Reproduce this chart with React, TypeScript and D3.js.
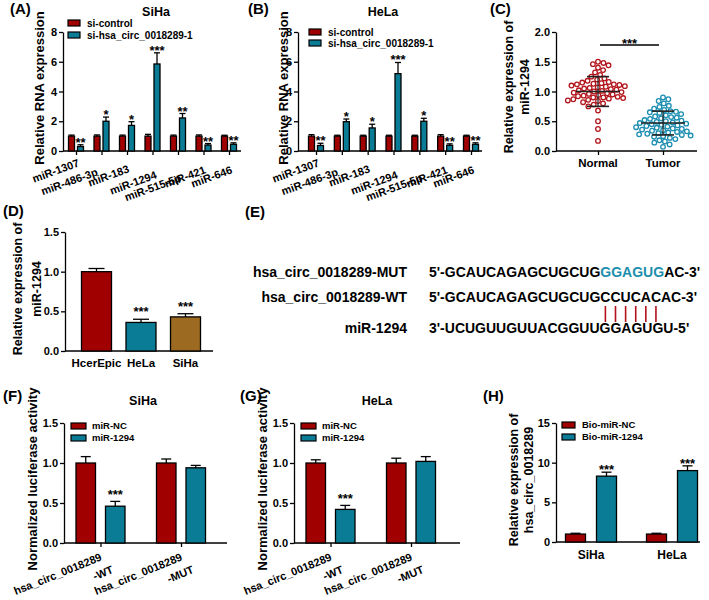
import React, { useEffect, useRef } from 'react';
import * as d3 from 'd3';

const FONT = '"Liberation Sans", Arial, Helvetica, sans-serif';
const RED = '#a10000';
const TEAL = '#0b7c95';
const BROWN = '#9c6a21';
const RED_DOT = '#b3151c';
const TEAL_DOT = '#1a8db0';
const SEQ_TEAL = '#1c8fae';

// (A) SiHa / (B) HeLa
const mirCategories = ['miR-1307', 'miR-486-3p', 'miR-183', 'miR-1294', 'miR-515-5p', 'miR-421', 'miR-646'];
const legendAB = ['si-control', 'si-hsa_circ_0018289-1'];
const siHaControl = [1.0, 1.0, 1.0, 1.0, 1.0, 1.0, 1.0];
const siHaControlErr = [0.07, 0.08, 0.07, 0.12, 0.07, 0.08, 0.06];
const siHaKnock = [0.3, 2.0, 1.72, 5.85, 2.22, 0.4, 0.45];
const siHaKnockErr = [0.12, 0.28, 0.25, 0.75, 0.3, 0.1, 0.1];
const siHaStars = ['**', '*', '*', '***', '**', '**', '**'];
const heLaControl = [1.0, 1.0, 1.0, 1.0, 1.0, 1.0, 1.0];
const heLaControlErr = [0.1, 0.06, 0.06, 0.06, 0.06, 0.1, 0.06];
const heLaKnock = [0.37, 1.97, 1.55, 5.2, 2.0, 0.38, 0.45];
const heLaKnockErr = [0.15, 0.18, 0.25, 0.75, 0.2, 0.1, 0.1];
const heLaStars = ['**', '*', '*', '***', '*', '**', '**'];
const ticksAB = [0, 2, 4, 6, 8];

// (C)
const dotGroups = ['Normal', 'Tumor'];
const normalValues = [
  1.5, 1.48, 1.46, 1.44, 1.4, 1.36, 1.32, 1.28, 1.25, 1.22, 1.2, 1.18, 1.16, 1.15, 1.14, 1.13, 1.12, 1.12,
  1.11, 1.1, 1.09, 1.08, 1.07, 1.06, 1.05, 1.04, 1.03, 1.02, 1.01, 1.0, 0.99, 0.98, 0.97, 0.96, 0.95, 0.94,
  0.93, 0.92, 0.91, 0.9, 0.9, 0.89, 0.88, 0.87, 0.86, 0.85, 0.84, 0.82, 0.8, 0.78, 0.75, 0.68, 0.5, 0.37, 0.17,
];
const tumorValues = [
  0.9, 0.87, 0.84, 0.8, 0.76, 0.74, 0.71, 0.69, 0.67, 0.66, 0.65, 0.64, 0.62, 0.6, 0.58, 0.57, 0.56, 0.55,
  0.54, 0.52, 0.51, 0.5, 0.49, 0.48, 0.47, 0.46, 0.45, 0.44, 0.43, 0.42, 0.41, 0.4, 0.39, 0.38, 0.37, 0.36,
  0.35, 0.34, 0.33, 0.32, 0.31, 0.3, 0.29, 0.28, 0.27, 0.26, 0.25, 0.24, 0.22, 0.2, 0.18, 0.16, 0.14, 0.11, 0.07,
];
const normalStats = { mean: 1.0, sd: 0.25 };
const tumorStats = { mean: 0.47, sd: 0.2 };
const ticksC = [0, 0.5, 1.0, 1.5, 2.0];

// (D)
const cellLines = ['HcerEpic', 'HeLa', 'SiHa'];
const cellValues = [1.0, 0.36, 0.43];
const cellErrors = [0.04, 0.04, 0.04];
const cellStars = ['', '***', '***'];
const ticksD = [0, 0.5, 1.0, 1.5];

// (E)
const seqLabels = ['hsa_circ_0018289-MUT', 'hsa_circ_0018289-WT', 'miR-1294'];
const seqMutPrefix = "5'-GCAUCAGAGCUGCUG";
const seqMutSite = 'GGAGUG';
const seqMutSuffix = "AC-3'";
const seqWT = "5'-GCAUCAGAGCUGCUGCCUCACAC-3'";
const seqMiR = "3'-UCUGUUGUUACGGUUGGAGUGU-5'";
const pairIndices = [18, 19, 20, 21, 22, 23];

// (F) SiHa / (G) HeLa
const lucGroups = ['WT', 'MUT'];
const lucLabelLines = [['hsa_circ_0018289', '-WT'], ['hsa_circ_0018289', '-MUT']];
const legendFG = ['miR-NC', 'miR-1294'];
const siHaLucNC = [1.0, 1.0];
const siHaLucNCErr = [0.08, 0.05];
const siHaLuc1294 = [0.46, 0.94];
const siHaLuc1294Err = [0.06, 0.03];
const siHaLucStars = ['***', ''];
const heLaLucNC = [1.0, 1.0];
const heLaLucNCErr = [0.04, 0.06];
const heLaLuc1294 = [0.42, 1.02];
const heLaLuc1294Err = [0.05, 0.06];
const heLaLucStars = ['***', ''];
const ticksFG = [0, 0.5, 1.0, 1.5];

// (H)
const pullCells = ['SiHa', 'HeLa'];
const legendH = ['Bio-miR-NC', 'Bio-miR-1294'];
const pullNC = [1.0, 1.0];
const pullNCErr = [0.1, 0.1];
const pull1294 = [8.3, 9.0];
const pull1294Err = [0.5, 0.6];
const pullStars = ['***', '***'];
const ticksH = [0, 5, 10, 15];

// layout: staggered offsets of the rotated category labels in (A)/(B)
const mirLabelShiftX = [4, -3, 3, 5, 4, 3, 4];
const mirLabelShiftY = [0, 9, 6, 12, 15, 7, 7];

type Sel = d3.Selection<any, any, any, any>;

function beeswarm(values: number[], y: (v: number) => number, cx: number, d: number) {
  const pts = values.map((v) => ({ v, y: y(v), x: cx })).sort((a, b) => a.y - b.y);
  const placed: { x: number; y: number }[] = [];
  for (const p of pts) {
    const cands = [cx];
    for (const q of placed) {
      const dy = Math.abs(q.y - p.y);
      if (dy < d) {
        const dx = Math.sqrt(d * d - dy * dy);
        cands.push(q.x + dx, q.x - dx);
      }
    }
    cands.sort((a, b) => Math.abs(a - cx) - Math.abs(b - cx));
    for (const c of cands) {
      if (placed.every((q) => (q.x - c) ** 2 + (q.y - p.y) ** 2 >= d * d - 0.01)) {
        p.x = c;
        break;
      }
    }
    placed.push(p);
  }
  return pts;
}

export default function App() {
  const ref = useRef<SVGSVGElement>(null);

  useEffect(() => {
    const svg = d3.select(ref.current!);
    svg.selectAll('*').remove();
    svg.append('rect').attr('width', 709).attr('height', 600).attr('fill', '#fff');
    const root = svg.append('g').attr('font-family', FONT).attr('font-weight', 700).attr('fill', '#000');

    const text = (g: Sel, x: number, y: number, s: string, size: number, anchor = 'start') =>
      g.append('text').attr('x', x).attr('y', y).attr('font-size', size).attr('text-anchor', anchor).text(s);

    const vTitle = (g: Sel, x: number, yc: number, s: string, size: number) =>
      g
        .append('text')
        .attr('transform', `translate(${x},${yc}) rotate(-90)`)
        .attr('text-anchor', 'middle')
        .attr('font-size', size)
        .text(s);

    const yAxis = (g: Sel, y: d3.ScaleLinear<number, number>, x: number, ticks: number[], fmt: (v: number) => string) => {
      const ax = d3.axisLeft(y).tickValues(ticks).tickFormat(fmt as any).tickSize(4).tickSizeOuter(0).tickPadding(2);
      const a = g.append('g').attr('transform', `translate(${x},0)`).call(ax as any);
      a.attr('font-family', FONT).attr('font-size', 11).attr('font-weight', 700);
      a.select('.domain').attr('stroke', '#000').attr('stroke-width', 1.3);
      a.selectAll('.tick line').attr('stroke', '#000').attr('stroke-width', 1.3);
      a.selectAll('.tick text').attr('fill', '#000');
    };

    const xLine = (g: Sel, x1: number, x2: number, y: number) =>
      g.append('line').attr('x1', x1).attr('x2', x2).attr('y1', y).attr('y2', y).attr('stroke', '#000').attr('stroke-width', 1.3);

    const xTicks = (g: Sel, x: d3.ScalePoint<string>, y: number) => {
      const a = g.append('g').attr('transform', `translate(0,${y})`).call(d3.axisBottom(x).tickSize(4).tickFormat(() => '') as any);
      a.select('.domain').remove();
      a.selectAll('.tick line').attr('stroke', '#000').attr('stroke-width', 1.3);
    };

    const bar = (
      g: Sel, cx: number, w: number, y: d3.ScaleLinear<number, number>, v: number, e: number,
      fill: string, stars: string, capW: number, starDy = 2,
    ) => {
      g.append('rect')
        .attr('x', cx - w / 2).attr('y', y(v)).attr('width', w).attr('height', y(0) - y(v))
        .attr('fill', fill).attr('stroke', '#000').attr('stroke-width', 1.3);
      if (e > 0) {
        g.append('line').attr('x1', cx).attr('x2', cx).attr('y1', y(v)).attr('y2', y(v + e)).attr('stroke', '#000').attr('stroke-width', 1.3);
        g.append('line').attr('x1', cx - capW / 2).attr('x2', cx + capW / 2).attr('y1', y(v + e)).attr('y2', y(v + e)).attr('stroke', '#000').attr('stroke-width', 1.3);
      }
      if (stars) text(g, cx, y(v + e) + starDy, stars, 13, 'middle');
    };

    const legend = (g: Sel, x: number, ys: number[], w: number, h: number, labels: string[], colors: string[], size: number, tx: number) => {
      labels.forEach((l, i) => {
        g.append('rect').attr('x', x).attr('y', ys[i] - h / 2).attr('width', w).attr('height', h)
          .attr('fill', colors[i]).attr('stroke', '#000').attr('stroke-width', 1.2);
        text(g, tx, ys[i] + size * 0.36, l, size);
      });
    };

    // ---------- (A) & (B) ----------
    const drawAB = (
      ox: number, axisX: number, xr: [number, number], axisEnd: number, title: string, titleX: number, letter: string,
      ctrl: number[], ctrlErr: number[], kd: number[], kdErr: number[], stars: string[], legX: number, legYs: number[], yTitleX: number,
    ) => {
      const g = root.append('g');
      const y = d3.scaleLinear().domain([0, 8]).range([151, 32]);
      const x = d3.scalePoint<string>().domain(mirCategories).range(xr);
      text(g, ox, 14, letter, 15);
      text(g, titleX, 16, title, 12.5, 'middle');
      vTitle(g, yTitleX, 88, 'Relative RNA expression', 13);
      yAxis(g, y, axisX, ticksAB, (v) => String(v));
      xLine(g, axisX, axisEnd, 151);
      xTicks(g, x, 151);
      mirCategories.forEach((c, i) => {
        const cx = x(c)!;
        bar(g, cx - 4.5, 6, y, ctrl[i], ctrlErr[i], RED, '', 6);
        bar(g, cx + 4.5, 6, y, kd[i], kdErr[i], TEAL, stars[i], 6);
        g.append('text')
          .attr('transform', `translate(${cx + mirLabelShiftX[i]},${166 + mirLabelShiftY[i]}) rotate(-20)`)
          .attr('text-anchor', 'end').attr('font-size', 11).text(c);
      });
      legend(g, legX, legYs, 12, 6, legendAB, [RED, TEAL], 10, legX + 19);
    };
    drawAB(10, 63, [76, 229], 241, 'SiHa', 156, '(A)', siHaControl, siHaControlErr, siHaKnock, siHaKnockErr, siHaStars, 68, [23, 35], 44);
    drawAB(248, 298, [316, 471], 482, 'HeLa', 383, '(B)', heLaControl, heLaControlErr, heLaKnock, heLaKnockErr, heLaStars, 309, [32, 43], 288);

    // ---------- (C) ----------
    {
      const g = root.append('g');
      const y = d3.scaleLinear().domain([0, 2]).range([151, 32]);
      const x = d3.scalePoint<string>().domain(dotGroups).range([598, 663]);
      text(g, 490, 14, '(C)', 15);
      vTitle(g, 513, 87, 'Relative expression of', 12.5);
      vTitle(g, 529, 87, 'miR-1294', 12.5);
      yAxis(g, y, 556, ticksC, (v) => v.toFixed(1));
      xLine(g, 556, 697, 151);
      xTicks(g, x, 151);
      dotGroups.forEach((grp) => text(g, x(grp)!, 167, grp, 11.5, 'middle'));
      const groups = [
        { vals: normalValues, stats: normalStats, color: RED_DOT, name: dotGroups[0] },
        { vals: tumorValues, stats: tumorStats, color: TEAL_DOT, name: dotGroups[1] },
      ];
      groups.forEach((gr) => {
        const cx = x(gr.name)!;
        const pts = beeswarm(gr.vals, y, cx, 5.6);
        g.selectAll(null).data(pts).enter().append('circle')
          .attr('cx', (d) => d.x).attr('cy', (d) => d.y).attr('r', 2.3)
          .attr('fill', '#fff').attr('stroke', gr.color).attr('stroke-width', 1.3);
        const m = gr.stats.mean, s = gr.stats.sd;
        const lc = '#222';
        g.append('line').attr('x1', cx).attr('x2', cx).attr('y1', y(m - s)).attr('y2', y(m + s)).attr('stroke', lc).attr('stroke-width', 1.2);
        g.append('line').attr('x1', cx - 22).attr('x2', cx + 22).attr('y1', y(m)).attr('y2', y(m)).attr('stroke', lc).attr('stroke-width', 1.6);
        [m - s, m + s].forEach((v) =>
          g.append('line').attr('x1', cx - 11).attr('x2', cx + 11).attr('y1', y(v)).attr('y2', y(v)).attr('stroke', lc).attr('stroke-width', 1.6));
      });
      g.append('line').attr('x1', 600).attr('x2', 659).attr('y1', 45).attr('y2', 45).attr('stroke', '#000').attr('stroke-width', 1.3);
      text(g, 629.5, 48, '***', 13, 'middle');
    }

    // ---------- (D) ----------
    {
      const g = root.append('g');
      const y = d3.scaleLinear().domain([0, 1.5]).range([351, 232]);
      const x = d3.scalePoint<string>().domain(cellLines).range([96.5, 185.5]);
      text(g, 3, 216, '(D)', 15);
      vTitle(g, 22, 289, 'Relative expression of', 12.5);
      vTitle(g, 41, 289, 'miR-1294', 12.5);
      yAxis(g, y, 65, ticksD, (v) => v.toFixed(1));
      xLine(g, 65, 213, 351);
      const cols = [RED, TEAL, BROWN];
      cellLines.forEach((c, i) => {
        bar(g, x(c)!, 30, y, cellValues[i], cellErrors[i], cols[i], cellStars[i], 16, -3);
        text(g, x(c)!, 367, c, 11.5, 'middle');
      });
    }

    // ---------- (E) ----------
    {
      const g = root.append('g');
      text(g, 245, 217, '(E)', 15);
      const ys = [277, 302, 333];
      seqLabels.forEach((l, i) => text(g, 407, ys[i], l, 14, 'end'));
      const mut = g.append('text').attr('x', 429).attr('y', ys[0]).attr('font-size', 14);
      mut.append('tspan').text(seqMutPrefix);
      mut.append('tspan').attr('fill', SEQ_TEAL).text(seqMutSite);
      mut.append('tspan').text(seqMutSuffix);
      const wt = text(g, 429, ys[1], seqWT, 14);
      text(g, 429, ys[2], seqMiR, 14);
      const node = wt.node() as SVGTextElement;
      pairIndices.forEach((idx) => {
        let cxp = 0;
        try {
          const ext = node.getExtentOfChar(idx);
          cxp = ext.x + ext.width / 2;
        } catch (e) {
          cxp = 606 + (idx - 18) * 10.4;
        }
        g.append('line').attr('x1', cxp).attr('x2', cxp).attr('y1', 306).attr('y2', 322)
          .attr('stroke', '#b3101c').attr('stroke-width', 1.6);
      });
    }

    // ---------- (F) & (G) ----------
    const drawFG = (
      ox: number, axisX: number, xr: [number, number], axisEnd: number, title: string, titleX: number, letter: string,
      nc: number[], ncErr: number[], mi: number[], miErr: number[], stars: string[], legX: number, yTitleX: number,
    ) => {
      const g = root.append('g');
      const y = d3.scaleLinear().domain([0, 1.5]).range([543, 423]);
      const x = d3.scalePoint<string>().domain(lucGroups).range(xr);
      text(g, ox, 401, letter, 15);
      text(g, titleX, 405, title, 12.5, 'middle');
      vTitle(g, yTitleX, 479, 'Normalized luciferase activity', 13);
      yAxis(g, y, axisX, ticksFG, (v) => v.toFixed(1));
      xLine(g, axisX, axisEnd, 543);
      xTicks(g, x, 543);
      lucGroups.forEach((c, i) => {
        const cx = x(c)!;
        bar(g, cx - 14.75, 19.5, y, nc[i], ncErr[i], RED, '', 10);
        bar(g, cx + 14.75, 19.5, y, mi[i], miErr[i], TEAL, stars[i], 10, -2);
        const t = g.append('text')
          .attr('transform', `translate(${cx + 2},${560}) rotate(-22)`)
          .attr('text-anchor', 'end').attr('font-size', 11);
        lucLabelLines[i].forEach((ln, j) => t.append('tspan').attr('x', j === 0 ? 0 : 6).attr('dy', j === 0 ? 0 : 16).text(ln));
      });
      legend(g, legX, [426, 438], 15, 6, legendFG, [RED, TEAL], 9.5, legX + 21);
    };
    drawFG(3, 64, [100.5, 181], 227, 'SiHa', 143, '(F)', siHaLucNC, siHaLucNCErr, siHaLuc1294, siHaLuc1294Err, siHaLucStars, 71, 37);
    drawFG(240, 294, [330.5, 411], 460, 'HeLa', 377, '(G)', heLaLucNC, heLaLucNCErr, heLaLuc1294, heLaLuc1294Err, heLaLucStars, 301, 267);

    // ---------- (H) ----------
    {
      const g = root.append('g');
      const y = d3.scaleLinear().domain([0, 15]).range([542, 423]);
      const x = d3.scalePoint<string>().domain(pullCells).range([591, 672]);
      text(g, 483, 401, '(H)', 15);
      vTitle(g, 518, 480, 'Relative expression of', 12.5);
      vTitle(g, 533, 480, 'hsa_circ_0018289', 12.5);
      yAxis(g, y, 556, ticksH, (v) => String(v));
      xLine(g, 556, 700, 542);
      pullCells.forEach((c, i) => {
        const cx = x(c)!;
        bar(g, cx - 15.5, 20, y, pullNC[i], pullNCErr[i], RED, '', 10);
        bar(g, cx + 15.5, 20, y, pull1294[i], pull1294Err[i], TEAL, pullStars[i], 10, 2);
        text(g, cx, 559, c, 12, 'middle');
      });
      legend(g, 562, [425, 437], 13, 6, legendH, [RED, TEAL], 9.5, 582);
    }
  }, []);

  return (
    <svg
      ref={ref}
      width={709}
      height={600}
      style={{ position: 'absolute', left: 0, top: 0, background: '#fff' }}
    />
  );
}
